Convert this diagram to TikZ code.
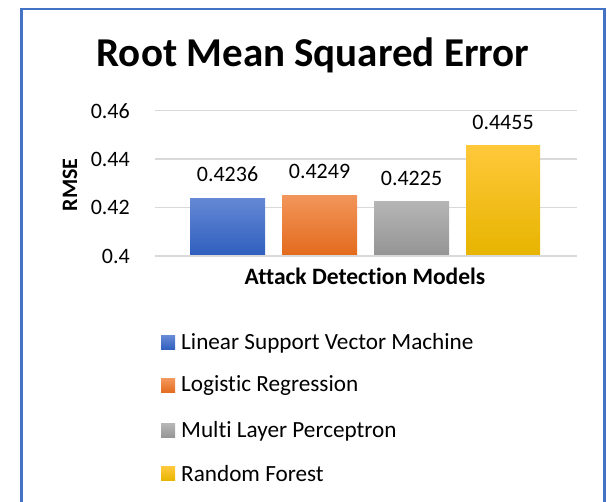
\documentclass[tikz,border=0pt]{standalone}
\usepackage{fontspec}
\setmainfont{Carlito}[Ligatures=NoCommon]
\usepackage{xcolor}
\definecolor{frameblue}{HTML}{4472C4}
\definecolor{gridgray}{HTML}{D9D9D9}
\definecolor{svmtop}{HTML}{6488D4}
\definecolor{svmbot}{HTML}{2E5EBE}
\definecolor{lrtop}{HTML}{F2955A}
\definecolor{lrbot}{HTML}{E36A1C}
\definecolor{mlptop}{HTML}{B5B5B5}
\definecolor{mlpbot}{HTML}{949494}
\definecolor{rftop}{HTML}{FFC83A}
\definecolor{rfbot}{HTML}{E6B400}
\tikzset{
  every tick/.style={
    anchor=east,
    inner sep=0pt,
    font=\fontsize{22}{26}\selectfont
  },
  every value/.style={
    anchor=south,
    inner sep=0pt,
    font=\fontsize{22}{26}\selectfont
  },
  every key/.style={
    anchor=west,
    inner sep=0pt,
    font=\fontsize{23.2}{27}\selectfont
  },
  every swatch/.style={
    minimum size=14pt,
    inner sep=0pt,
    shading=axis,
    shading angle=0
  },
  every bar/.style={
    shading=axis,
    shading angle=0
  },
  gridline/.style={
    draw=gridgray,
    line width=1.5pt
  }
}

\begin{document}
\begin{tikzpicture}[x=1pt, y=1pt]
  \useasboundingbox (0,0) rectangle (607,502);
  % Frame
  \draw[frameblue, line width=2.5pt] (21.5,-5) -- (21.5,493) -- (604.5,493) -- (604.5,-5);

  % Title
  \node[font=\fontsize{41}{48}\selectfont\bfseries] (title) at (313,447) {Root Mean Squared Error};

  % Grid and ticks
  \draw[gridline] (155,391.3) -- (577,391.3);
  \draw[gridline] (155,343) -- (577,343);
  \draw[gridline] (155,294.5) -- (577,294.5);
  \draw[gridline] (155,246) -- (577,246);
  \node [every tick] (t46) at (130,391.3) {0.46};
  \node [every tick] (t44) at (130,343) {0.44};
  \node [every tick] (t42) at (130,294.5) {0.42};
  \node [every tick] (t40) at (130,246) {0.4};

  % Bars
  \path[every bar, top color=svmtop, bottom color=svmbot] (190,246) rectangle (265,303.2);
  \path[every bar, top color=lrtop, bottom color=lrbot] (282,246) rectangle (357,306.4);
  \path[every bar, top color=mlptop, bottom color=mlpbot] (374,246) rectangle (449,300.6);
  \path[every bar, top color=rftop, bottom color=rfbot] (466,246) rectangle (540,356.3);
  \draw[gridline] (155,246) -- (577,246);

  % Values
  \node [every value] (v1) at (227.5,320) {0.4236};
  \node [every value] (v2) at (319.5,323) {0.4249};
  \node [every value] (v3) at (411.5,316) {0.4225};
  \node [every value] (v4) at (503,372) {0.4455};

  % Axis titles
  \node[font=\fontsize{22}{26}\selectfont\bfseries, rotate=90] (ytitle) at (70,317) {RMSE};
  \node[font=\fontsize{23.5}{27}\selectfont\bfseries] (xtitle) at (365,226) {Attack Detection Models};

  % Legend
  \node [every swatch, top color=svmtop, bottom color=svmbot] (k1) at (168,159) {};
  \node [every swatch, top color=lrtop, bottom color=lrbot] (k2) at (168,116) {};
  \node [every swatch, top color=mlptop, bottom color=mlpbot] (k3) at (168,71) {};
  \node [every swatch, top color=rftop, bottom color=rfbot] (k4) at (168,28) {};
  \node [every key] (l1) at (181,159) {Linear Support Vector Machine};
  \node [every key] (l2) at (181,116) {Logistic Regression};
  \node [every key] (l3) at (181,71) {Multi Layer Perceptron};
  \node [every key] (l4) at (181,28) {Random Forest};
\end{tikzpicture}
\end{document}
